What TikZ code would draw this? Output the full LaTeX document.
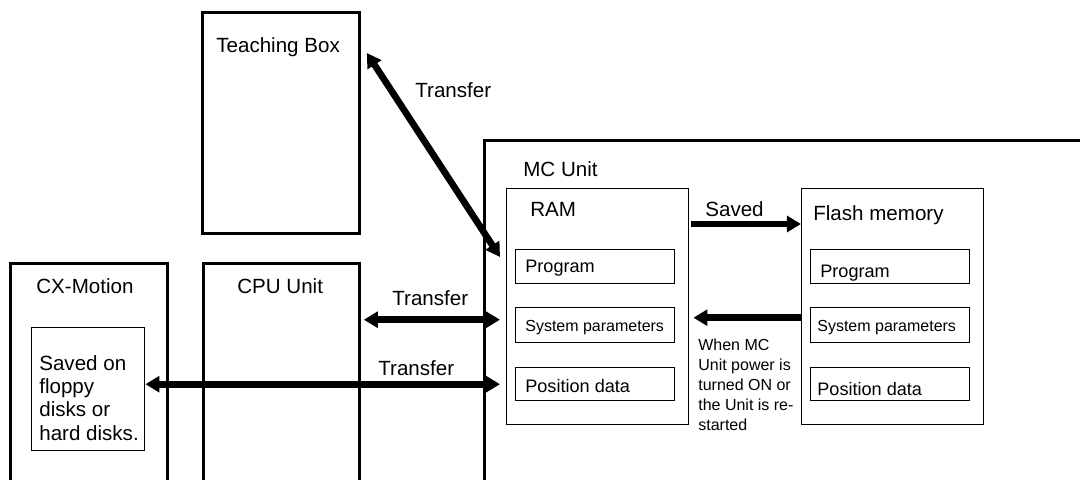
\documentclass[tikz,border=0pt]{standalone}
\usepackage{fontspec}
\setmainfont{Liberation Sans}
\usetikzlibrary{arrows.meta}
\begin{document}
\begin{tikzpicture}[
    font=\fontsize{11.7}{13.3}\selectfont,
    unitbox/.style={draw, line width=1.6pt, inner sep=0pt, anchor=north west},
    membox/.style={draw, line width=0.8pt, inner sep=0pt, anchor=north west, minimum width=3.64cm, minimum height=4.72cm},
    databox/.style={draw, line width=0.8pt, inner sep=0pt, anchor=north west, minimum width=3.18cm},
    lbl/.style={inner sep=0pt, anchor=base west},
    mid/.style={lbl, font=\fontsize{10.3}{12}\selectfont},
    small/.style={lbl, font=\fontsize{9.1}{11.3}\selectfont},
    xfer/.style={line width=3.8pt, {Triangle[length=8pt,width=9pt]}-{Triangle[length=8pt,width=9pt]}},
    oneway/.style={line width=3.8pt, -{Triangle[length=8pt,width=9pt]}},
]
    \useasboundingbox (0,0) rectangle (21.6,9.58);
    \clip (0,0) rectangle (21.6,9.58);

    % ============= outside units =============
    \node[unitbox, minimum width=3.14cm, minimum height=4.42cm] (tb) at (4.02,9.36) {};
    \node[lbl] (tbname) at (4.32,8.52) {Teaching Box};
    \node[unitbox, minimum width=3.14cm, minimum height=5cm] (cx) at (0.18,4.34) {};
    \node[lbl] (cxname) at (0.72,3.72) {CX-Motion};
    \node[draw, line width=0.8pt, inner sep=0pt, anchor=north west, minimum width=2.26cm, minimum height=2.46cm] (disk) at (0.62,3.04) {};
    \node[inner sep=0pt, anchor=north west, align=left] (disktext) at (0.78,2.48) {Saved on\\floppy\\disks or\\hard disks.};
    \node[unitbox, minimum width=3.12cm, minimum height=5cm] (cpu) at (4.04,4.34) {};
    \node[lbl] (cpuname) at (4.74,3.72) {CPU Unit};

    % ============= MC Unit =============
    \node[unitbox, minimum width=12.5cm, minimum height=7cm] (mc) at (9.66,6.8) {};
    \node[lbl] (mcname) at (10.46,6.04) {MC Unit};

    \node[membox] (ram) at (10.12,5.82) {};
    \node[lbl] (ramname) at (10.6,5.26) {RAM};
    \node[databox, minimum height=0.68cm] (progR) at (10.3,4.6) {};
    \node[databox, minimum height=0.7cm] (sysR) at (10.3,3.44) {};
    \node[databox, minimum height=0.66cm] (posR) at (10.3,2.24) {};
    \node[mid] at (10.5,4.14) {Program};
    \node[small] at (10.5,2.96) {System parameters};
    \node[mid] at (10.5,1.74) {Position data};

    \node[membox] (flash) at (16.02,5.82) {};
    \node[lbl] (flashname) at (16.26,5.18) {Flash memory};
    \node[databox, minimum height=0.68cm] (progF) at (16.2,4.6) {};
    \node[databox, minimum height=0.7cm] (sysF) at (16.2,3.44) {};
    \node[databox, minimum height=0.66cm] (posF) at (16.2,2.24) {};
    \node[mid] at (16.4,4.04) {Program};
    \node[small] at (16.34,2.96) {System parameters};
    \node[mid] at (16.34,1.68) {Position data};

    % ============= transfers =============
    \draw[xfer] ([shift={(0.12,-0.84)}]tb.north east) -- ([shift={(-0.12,-1.38)}]ram.north west);
    \node[lbl] (tbxfer) at (8.30,7.62) {Transfer};
    \draw[xfer] ([xshift=0.06cm,yshift=0.11cm]cpu.east |- sysR.west) -- ([xshift=-0.3cm,yshift=0.11cm]sysR.west);
    \node[lbl] (cpuxfer) at (7.84,3.48) {Transfer};
    \draw[xfer] (disk.east |- posR.west) -- ([xshift=-0.3cm]posR.west);
    \node[lbl] (cxxfer) at (7.56,2.08) {Transfer};

    \draw[oneway] ([xshift=0.04cm,yshift=-0.72cm]ram.north east) -- ([yshift=-0.72cm]flash.north west);
    \node[lbl] (savedlbl) at (14.1,5.26) {Saved};
    \draw[oneway] ([yshift=0.15cm]flash.west |- sysF.west) -- ([xshift=0.08cm,yshift=0.15cm]ram.east |- sysF.west);
    \node[inner sep=0pt, anchor=north west, align=left, font=\fontsize{9.1}{11.3}\selectfont] (bootnote) at (13.96,2.8) {When MC\\Unit power is\\turned ON or\\the Unit is re-\\started};
\end{tikzpicture}
\end{document}
